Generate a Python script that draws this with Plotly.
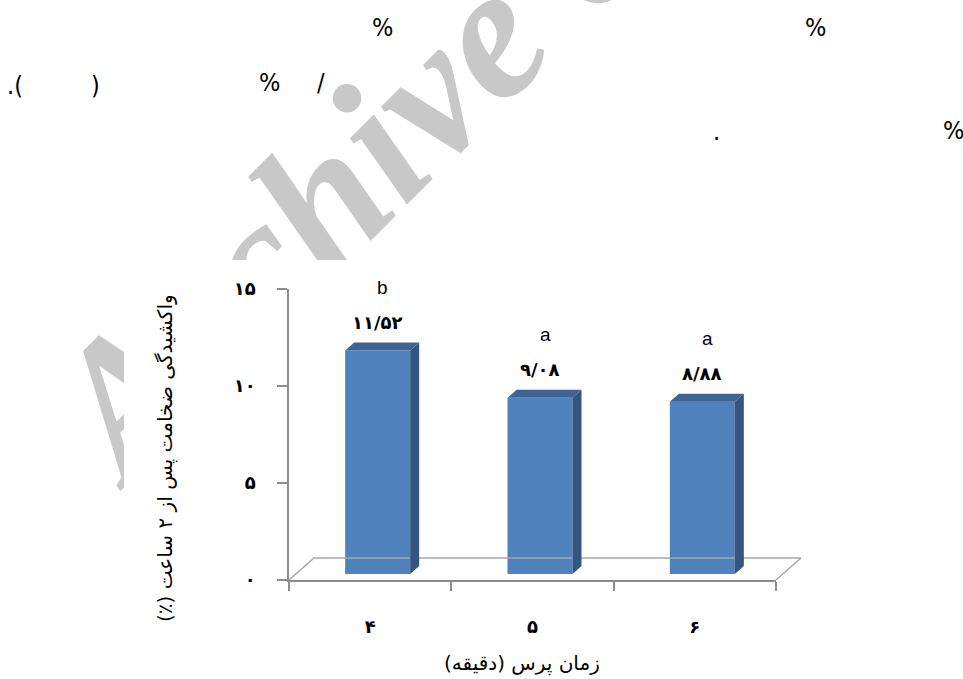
import plotly.graph_objects as go

# ---------------- data ----------------
press_minutes = ["۴", "۵", "۶"]            # press time (minutes)
swelling_pct = [11.52, 9.08, 8.88]          # thickness swelling after 2 h (%)
group_letters = ["b", "a", "a"]             # significance groups
y_tick_values = [0, 5, 10, 15]
y_tick_labels = ["۰", "۵", "۱۰", "۱۵"]

FA_DIGITS = str.maketrans("0123456789", "۰۱۲۳۴۵۶۷۸۹")
RLM = "\u200f"


def fa_value(v):
    return f"{v:.2f}".replace(".", "/").translate(FA_DIGITS)


def rtl(s):
    return RLM + s + RLM


# ---------------- page geometry ----------------
W, H = 963, 679


def fx(px):
    return px / W


def fy(px):
    return 1 - px / H


LEFT, RIGHT, TOP, BOTTOM = 289, 776, 289, 580     # value axis frame
Y_MAX = 15
cat_px = (RIGHT - LEFT) / len(press_minutes)
unit_px = (BOTTOM - TOP) / Y_MAX

BAR_SHIFT = (7.5, 6)      # bars sit half way into the floor depth
BAR_DEPTH = (9, 8)
FLOOR_DEPTH = (25, 22)
BAR_W_PX = 65

F_L, F_R, F_T, F_B = 270, 830, 255, 600           # frame of the 3-D layer
x4_range = [-0.5 - (LEFT - F_L) / cat_px, -0.5 + (F_R - LEFT) / cat_px]
y4_range = [-(F_B - BOTTOM) / unit_px, (BOTTOM - F_T) / unit_px]

FRONT = "#4F81BD"
SIDE = "#34557F"
TOPC = "#3D6493"
AXIS = "#8C8C8C"
FLOOR = "#A6A6A6"
FA_FONT = "DejaVu Sans"

sx = BAR_SHIFT[0] / cat_px
sy = BAR_SHIFT[1] / unit_px
bw = BAR_W_PX / cat_px
ddx = BAR_DEPTH[0] / cat_px
ddy = BAR_DEPTH[1] / unit_px
fdx = FLOOR_DEPTH[0] / cat_px
fdy = FLOOR_DEPTH[1] / unit_px

positions = list(range(len(press_minutes)))

fig = go.Figure()

# watermark layer (drawn first, later partly hidden by the chart panel)
fig.add_trace(go.Scatter(x=[0], y=[0], mode="markers", marker=dict(opacity=0),
                         hoverinfo="skip", xaxis="x", yaxis="y"))

# white chart panel
fig.add_trace(go.Scatter(x=[0, 1, 1, 0, 0], y=[0, 0, 1, 1, 0], mode="lines",
                         fill="toself", fillcolor="white", line=dict(width=0),
                         hoverinfo="skip", xaxis="x2", yaxis="y2"))

# category / value axes
fig.add_trace(go.Scatter(x=press_minutes, y=[0] * len(press_minutes), mode="markers",
                         marker=dict(opacity=0), hoverinfo="skip",
                         xaxis="x3", yaxis="y3"))

# floor of the 3-D chart
x_lo, x_hi = -0.5, len(press_minutes) - 0.5
fig.add_trace(go.Scatter(x=[x_lo, x_lo + fdx, x_hi + fdx, x_hi],
                         y=[0, fdy, fdy, 0], mode="lines",
                         line=dict(color=FLOOR, width=1.5),
                         hoverinfo="skip", xaxis="x4", yaxis="y4"))

# front faces
fig.add_trace(go.Bar(x=positions, y=swelling_pct, base=sy, width=bw,
                     offset=-bw / 2 + sx, marker=dict(color=FRONT, line=dict(width=0)),
                     hoverinfo="skip", xaxis="x4", yaxis="y4"))

# side and top faces
side_x, side_y, top_x, top_y = [], [], [], []
for i, v in zip(positions, swelling_pct):
    xl, xr = i + sx - bw / 2, i + sx + bw / 2
    y0, y1 = sy, sy + v
    side_x += [xr, xr + ddx, xr + ddx, xr, xr, None]
    side_y += [y0, y0 + ddy, y1 + ddy, y1, y0, None]
    top_x += [xl, xl + ddx, xr + ddx, xr, xl, None]
    top_y += [y1, y1 + ddy, y1 + ddy, y1, y1, None]
fig.add_trace(go.Scatter(x=side_x, y=side_y, mode="lines", fill="toself",
                         fillcolor=SIDE, line=dict(width=0), hoverinfo="skip",
                         xaxis="x4", yaxis="y4"))
fig.add_trace(go.Scatter(x=top_x, y=top_y, mode="lines", fill="toself",
                         fillcolor=TOPC, line=dict(width=0), hoverinfo="skip",
                         xaxis="x4", yaxis="y4"))

hidden = dict(visible=False, fixedrange=True, automargin=False)

annotations = []
for i, v, g in zip(positions, swelling_pct, group_letters):
    annotations.append(dict(x=i + sx, y=sy + v, xref="x4", yref="y4", text=fa_value(v),
                            showarrow=False, xanchor="center", yanchor="middle", yshift=28,
                            font=dict(family=FA_FONT, size=18, color="black", weight="bold")))
    annotations.append(dict(x=i + sx, y=sy + v, xref="x4", yref="y4", text=g,
                            showarrow=False, xanchor="center", yanchor="middle",
                            yshift=63, xshift=5,
                            font=dict(family="Liberation Sans", size=19, color="black")))

annotations.append(dict(x=fx(165), y=fy(458), xref="paper", yref="paper",
                        text=rtl("واکشیدگی ضخامت پس از ۲ ساعت (٪)"), textangle=-90,
                        xanchor="center", yanchor="middle",
                        showarrow=False, font=dict(family=FA_FONT, size=20, color="black")))
annotations.append(dict(x=fx(522), y=fy(663), xref="paper", yref="paper",
                        text=rtl("زمان پرس (دقیقه)"), showarrow=False,
                        xanchor="center", yanchor="middle",
                        font=dict(family=FA_FONT, size=20, color="black")))

# fragments of the surrounding page text
page_bits = [("%", 382, 28), ("%", 815, 28), (".(", 15, 85), (")", 95, 85),
             ("%", 269, 82), ("/", 321, 82), (".", 716, 132), ("%", 953, 130)]
for t, x, y in page_bits:
    annotations.append(dict(x=fx(x), y=fy(y), xref="paper", yref="paper", text=t,
                            showarrow=False, xanchor="center", yanchor="middle",
                            font=dict(family="Liberation Sans Narrow, DejaVu Sans Condensed, sans-serif",
                                      size=25, color="black")))

WM_X, WM_Y = 60, 551

fig.update_layout(
    width=W, height=H, margin=dict(l=0, r=0, t=0, b=0, autoexpand=False),
    paper_bgcolor="white", plot_bgcolor="rgba(0,0,0,0)", showlegend=False,
    xaxis=dict(domain=[0, 1], range=[0, W], side="top", anchor="y", automargin=False,
               tickvals=[WM_X], ticktext=["Archive of SID"], tickangle=-45,
               ticks="", showgrid=False, zeroline=False, showline=False,
               ticklabeloverflow="allow", fixedrange=True,
               tickfont=dict(family="Liberation Serif", size=190, color="#C8C8C8",
                             weight="bold", style="italic")),
    yaxis=dict(domain=[0, fy(WM_Y)], range=[0, 1], **hidden),
    xaxis2=dict(domain=[fx(124), 1], range=[0, 1], anchor="y2", **hidden),
    yaxis2=dict(domain=[0, fy(260)], range=[0, 1], anchor="x2", **hidden),
    xaxis3=dict(domain=[fx(LEFT), fx(RIGHT)], anchor="y3", type="category",
                categoryorder="array", categoryarray=press_minutes, automargin=False,
                range=[-0.5, len(press_minutes) - 0.5], tickson="boundaries",
                ticks="outside", ticklen=9, tickwidth=1.5, tickcolor=AXIS,
                showline=True, linecolor=AXIS, linewidth=1.5, showgrid=False,
                zeroline=False, ticklabelstandoff=30, fixedrange=True,
                tickfont=dict(family=FA_FONT, size=18, color="black", weight="bold")),
    yaxis3=dict(domain=[fy(BOTTOM), fy(TOP)], anchor="x3", range=[0, Y_MAX],
                tickvals=y_tick_values, ticktext=y_tick_labels, automargin=False,
                ticks="outside", ticklen=10, tickwidth=1.5, tickcolor=AXIS,
                showline=True, linecolor=AXIS, linewidth=1.5, showgrid=False,
                zeroline=False, ticklabelstandoff=18, fixedrange=True,
                tickfont=dict(family=FA_FONT, size=18, color="black", weight="bold")),
    xaxis4=dict(domain=[fx(F_L), fx(F_R)], range=x4_range, anchor="y4", **hidden),
    yaxis4=dict(domain=[fy(F_B), fy(F_T)], range=y4_range, anchor="x4", **hidden),
    annotations=annotations,
)

fig.write_html("out.html")
